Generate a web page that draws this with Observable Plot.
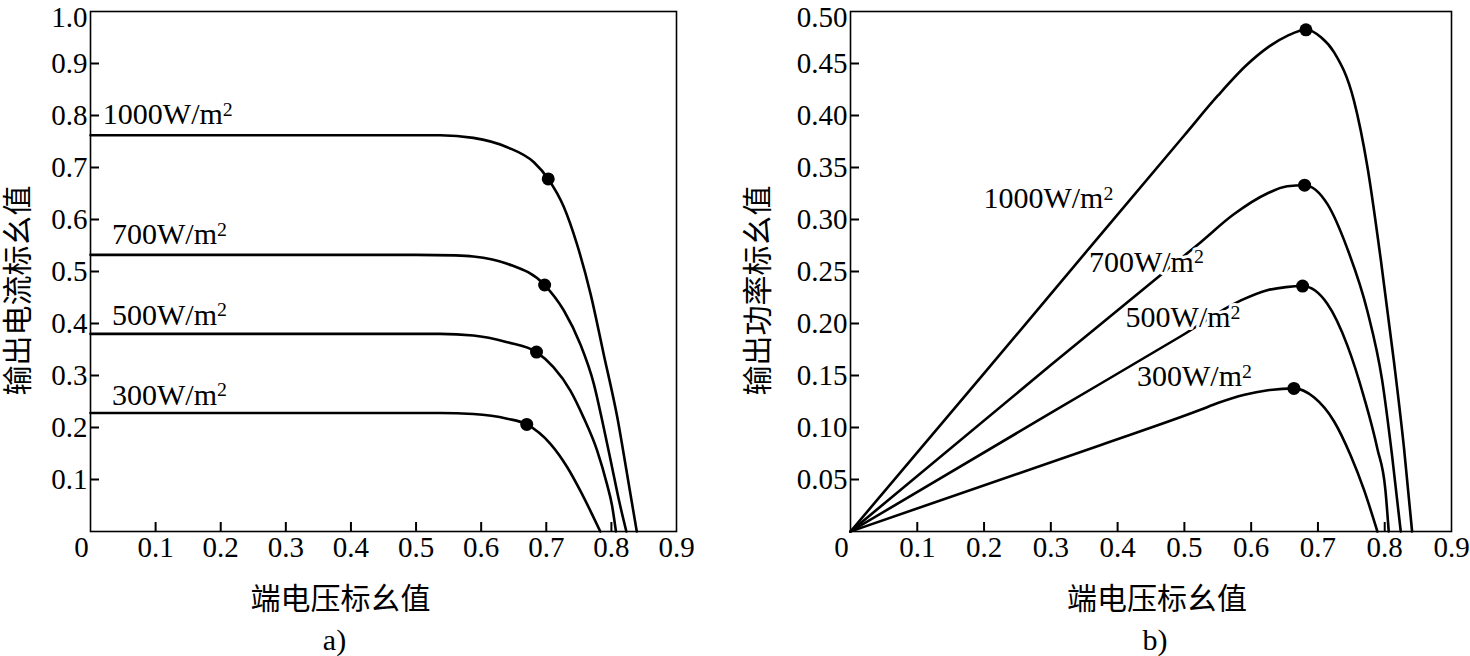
<!DOCTYPE html>
<html><head><meta charset="utf-8">
<script src="https://cdn.jsdelivr.net/npm/d3@7"></script>
<script src="https://cdn.jsdelivr.net/npm/@observablehq/plot@0.6"></script>
<style>
html,body{margin:0;padding:0;background:#fff;}
#wrap{position:relative;width:1470px;height:656px;overflow:hidden;background:#fff;}
#left{position:absolute;left:0;top:0;}
#right{position:absolute;left:740px;top:0;}
</style></head><body>
<div id="wrap"><div id="left"></div><div id="right"></div></div>
<script>
// ---------- data ----------
const seriesKeys = ["1000", "700", "500", "300"];
const seriesLabels = ["1000W/m²", "700W/m²", "500W/m²", "300W/m²"];

// (a) current vs voltage (per-unit)
const iv1000 = [[0,0.762],[0.5,0.762],[0.537,0.762],[0.588,0.757],[0.64,0.739],[0.681,0.710],[0.703,0.678],[0.727,0.624],[0.747,0.553],[0.768,0.457],[0.788,0.342],[0.809,0.220],[0.824,0.111],[0.839,0]];
const iv700  = [[0,0.532],[0.5,0.532],[0.56,0.531],[0.588,0.529],[0.64,0.515],[0.6975,0.474],[0.727,0.425],[0.752,0.361],[0.773,0.284],[0.788,0.201],[0.800,0.130],[0.812,0.058],[0.823,0]];
const iv500  = [[0,0.380],[0.5,0.380],[0.537,0.380],[0.588,0.377],[0.64,0.364],[0.685,0.345],[0.711,0.316],[0.737,0.271],[0.757,0.220],[0.778,0.156],[0.793,0.092],[0.801,0.050],[0.807,0]];
const iv300  = [[0,0.228],[0.5,0.228],[0.537,0.228],[0.588,0.226],[0.640,0.217],[0.670,0.206],[0.706,0.169],[0.732,0.124],[0.752,0.079],[0.770,0.034],[0.783,0]];
const ivMpp  = [[0.703,0.678],[0.6975,0.474],[0.685,0.345],[0.670,0.206]];
const ivLabelPos = [[0.019,0.783],[0.033,0.552],[0.033,0.398],[0.033,0.244]];

// (b) power vs voltage (per-unit)
const pv1000 = [[0,0],[0.2,0.152],[0.374,0.285],[0.5,0.381],[0.55,0.419],[0.594,0.449],[0.624,0.465],[0.654,0.4765],[0.682,0.4824],[0.705,0.475],[0.724,0.461],[0.754,0.414],[0.774,0.351],[0.794,0.262],[0.814,0.1625],[0.829,0.0795],[0.841,0]];
const pv700  = [[0,0],[0.3,0.160],[0.454,0.241],[0.524,0.278],[0.574,0.305],[0.624,0.325],[0.654,0.332],[0.680,0.333],[0.714,0.315],[0.744,0.272],[0.774,0.212],[0.796,0.146],[0.811,0.073],[0.824,0]];
const pv500  = [[0,0],[0.3,0.114],[0.494,0.1875],[0.584,0.222],[0.624,0.232],[0.652,0.235],[0.677,0.236],[0.714,0.219],[0.744,0.179],[0.769,0.129],[0.789,0.0795],[0.801,0.040],[0.806,0]];
const pv300  = [[0,0],[0.374,0.083],[0.524,0.117],[0.55,0.1235],[0.59,0.1315],[0.625,0.1358],[0.664,0.1376],[0.694,0.129],[0.724,0.106],[0.749,0.073],[0.769,0.040],[0.789,0]];
const pvMpp  = [[0.682,0.4824],[0.680,0.333],[0.677,0.236],[0.664,0.1376]];
const pvLabelPos = [[0.199,0.3106],[0.357,0.250],[0.412,0.1965],[0.429,0.140]];

const xTicks = [0.1,0.2,0.3,0.4,0.5,0.6,0.7,0.8,0.9];
const yTicksA = [0.1,0.2,0.3,0.4,0.5,0.6,0.7,0.8,0.9,1.0];
const yTicksB = [0.05,0.10,0.15,0.20,0.25,0.30,0.35,0.40,0.45,0.50];
const xTitle = "端电压标幺值";
const yTitleA = "输出电流标幺值";
const yTitleB = "输出功率标幺值";
const captions = ["a)", "b)"];

// ---------- drawing ----------
const serif = "'Liberation Serif', 'Times New Roman', serif";
const cjk = "'Noto Sans CJK SC', sans-serif";
const H = 656, MT = 11, MB = 125, TICK = 9;
const X_DOMAIN = [0, 0.9];

function toRows(curves) {
  return curves.flatMap((pts, k) => pts.map(([x, y]) => ({x, y, key: seriesKeys[k]})));
}

function panel(o) {
  const rows = toRows(o.curves);
  const dots = o.mpp.map(([x, y]) => ({x, y}));
  const labs = o.labelPos.map(([x, y], k) => ({x, y, text: seriesLabels[k]}));
  const yInner = o.yTicks.slice(0, -1);
  const yTop = o.yTicks[o.yTicks.length - 1];
  const xInner = xTicks.slice(0, -1);
  const frameW = o.width - o.marginLeft - o.marginRight;
  const frameH = H - MT - MB;
  // tick length converted from pixels into data units of each scale
  const yTickLen = (o.yDomain[1] - o.yDomain[0]) * TICK / frameH;
  const xTickLen = (X_DOMAIN[1] - X_DOMAIN[0]) * TICK / frameW;
  return Plot.plot({
    width: o.width, height: H,
    marginLeft: o.marginLeft, marginRight: o.marginRight, marginTop: MT, marginBottom: MB,
    style: {fontFamily: serif, fontSize: "29px", background: "white"},
    x: {domain: X_DOMAIN, label: null},
    y: {domain: o.yDomain, label: null},
    marks: [
      // tick labels
      Plot.axisX(xTicks, {tickSize: 0, tickPadding: 5, tickFormat: d3.format(".1f"), label: null}),
      Plot.axisY(yInner, {tickSize: 0, tickPadding: 3, tickFormat: o.yFmt, label: null}),
      Plot.text([o.yFmt(yTop)], {text: d => d, frameAnchor: "top-left", dx: -3, dy: 6, textAnchor: "end", lineAnchor: "middle", fontSize: 29}),
      Plot.text(["0"], {text: d => d, frameAnchor: "bottom-left", dx: -9, dy: 5, textAnchor: "middle", lineAnchor: "top", fontSize: 29}),
      // curves
      Plot.line(rows, {x: "x", y: "y", z: "key", curve: "monotone-x", stroke: "black", strokeWidth: 2.6, strokeLinejoin: "round", strokeLinecap: "round"}),
      Plot.text(labs, {x: "x", y: "y", text: "text", textAnchor: "start", lineAnchor: "bottom", fontSize: 30,
        fill: "black", stroke: o.halo ? "white" : null, strokeWidth: o.halo ? 6 : null}),
      Plot.dot(dots, {x: "x", y: "y", r: 6.5, fill: "black", stroke: "none"}),
      Plot.frame({stroke: "black", strokeWidth: 1.6}),
      // inward ticks as short rules from the axis lines
      Plot.ruleX(xInner, {x: d => d, y1: o.yDomain[0], y2: o.yDomain[0] + yTickLen, stroke: "black", strokeWidth: 2}),
      Plot.ruleY(yInner, {y: d => d, x1: X_DOMAIN[0], x2: X_DOMAIN[0] + xTickLen, stroke: "black", strokeWidth: 2}),
      // titles
      Plot.text([o.yTitle], {text: d => d, frameAnchor: "left", rotate: -90, dx: o.yTitleDx, dy: 19, textAnchor: "middle", lineAnchor: "middle", fontFamily: cjk, fontSize: 30}),
      Plot.text([xTitle], {text: d => d, frameAnchor: "bottom", dx: o.xTitleDx, dy: 68, textAnchor: "middle", lineAnchor: "middle", fontFamily: cjk, fontSize: 30}),
      Plot.text([o.caption], {text: d => d, frameAnchor: "bottom", dx: o.captionDx, dy: 118, textAnchor: "middle", lineAnchor: "bottom", fontSize: 30})
    ]
  });
}

function superscript(svg) {
  const ns = "http://www.w3.org/2000/svg";
  svg.querySelectorAll("text").forEach(t => {
    if (t.children.length === 0 && t.textContent.includes("²")) {
      t.textContent = t.textContent.replace("²", "");
      const ts = document.createElementNS(ns, "tspan");
      ts.setAttribute("dy", "-0.42em");
      ts.setAttribute("font-size", "0.66em");
      ts.textContent = "2";
      t.appendChild(ts);
    }
  });
  return svg;
}

document.getElementById("left").append(superscript(panel({
  width: 740, marginLeft: 90, marginRight: 64,
  curves: [iv1000, iv700, iv500, iv300], mpp: ivMpp, labelPos: ivLabelPos,
  yDomain: [0, 1.0], yTicks: yTicksA, yFmt: d3.format(".1f"),
  yTitle: yTitleA, yTitleDx: -72, xTitleDx: -43, captionDx: -49, caption: captions[0], halo: false
})));

document.getElementById("right").append(superscript(panel({
  width: 730, marginLeft: 110, marginRight: 19,
  curves: [pv1000, pv700, pv500, pv300], mpp: pvMpp, labelPos: pvLabelPos,
  yDomain: [0, 0.5], yTicks: yTicksB, yFmt: d3.format(".2f"),
  yTitle: yTitleB, yTitleDx: -92, xTitleDx: 6, captionDx: 4, caption: captions[1], halo: true
})));
</script></body></html>
